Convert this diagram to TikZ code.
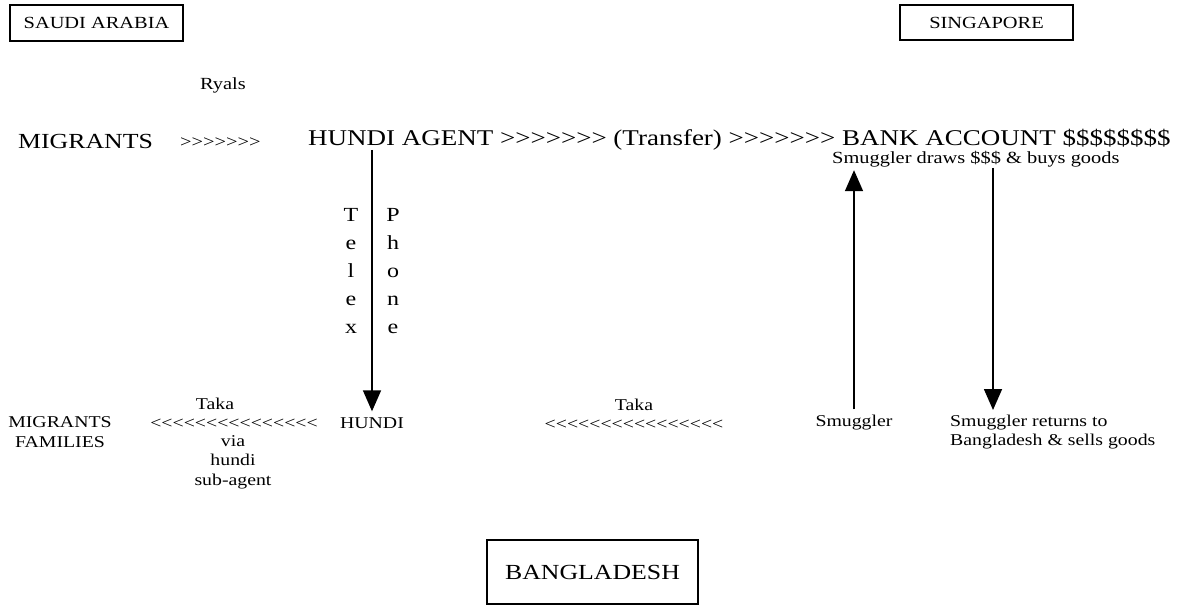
\documentclass[tikz,border=0pt]{standalone}
\usepackage{fontspec}
\setmainfont[FakeStretch=1.2]{Liberation Serif}
% same face without the TeX input mapping, so that << and >> stay plain signs
\newfontfamily\plainserif[FakeStretch=1.2]{Liberation Serif}
\usetikzlibrary{arrows.meta}
\begin{document}
\begin{tikzpicture}[x=1pt,y=-1pt,
  big/.style={font=\plainserif\fontsize{21.5}{26}\selectfont, inner sep=0pt},
  small/.style={font=\plainserif\fontsize{17}{20}\selectfont, inner sep=0pt},
  bsmall/.style={font=\plainserif\fontsize{16.5}{19.5}\selectfont, inner sep=0pt},
  letters/.style={font=\plainserif\fontsize{20}{28}\selectfont, inner sep=0pt, align=center},
  place/.style={draw, line width=1.3pt},
  flow/.style={line width=1.6pt, -{Triangle[width=18pt,length=21pt]}},
]
\useasboundingbox (0,0) rectangle (1185,609);

% country boxes
\node[place, small, minimum width=173pt, minimum height=36pt] (sa) at (96.5,23) {SAUDI ARABIA};
\node[place, small, minimum width=173pt, minimum height=35pt] (sg) at (986.5,22.5) {SINGAPORE};
\node[place, big, minimum width=211pt, minimum height=64pt] (bd) at (592.5,572) {BANGLADESH};

% top row: remittance leaves the Gulf
\node[small] (ryals) at (223,85) {Ryals};
\node[big, anchor=west] (mig) at (18,141) {MIGRANTS};
\node[small, anchor=west] (migarr) at (180,143) {>>>>>>>};
\node[font=\plainserif\fontsize{22.5}{26}\selectfont, inner sep=0pt, anchor=west] (main) at (308,140)
  {HUNDI AGENT >>>>>>> (Transfer) >>>>>>> BANK ACCOUNT \$\$\$\$\$\$\$\$};
\node[small, anchor=west] (draws) at (832,159) {Smuggler draws \$\$\$ \& buys goods};

% message channels beside the hundi arrow
\node[letters] (telex) at (351,271) {T\\e\\l\\e\\x};
\node[letters] (phone) at (393,271) {P\\h\\o\\n\\e};

% bottom row: payment in Bangladesh
\node[bsmall, align=center] (mf) at (60,432) {MIGRANTS\\FAMILIES};
\node[bsmall] (taka1) at (215,404) {Taka};
\node[bsmall] (larr) at (234,424) {<<<<<<<<<<<<<<<};
\node[bsmall, align=center] (via) at (233,462) {via\\hundi\\sub-agent};
\node[bsmall] (hundi) at (372,423) {HUNDI};
\node[bsmall] (taka2) at (634,405) {Taka};
\node[bsmall] (rarr) at (634,425) {<<<<<<<<<<<<<<<<};
\node[bsmall] (smug) at (854,423) {Smuggler};
\node[bsmall, align=left, anchor=west] (ret) at (950,432) {Smuggler returns to\\Bangladesh \& sells goods};

% connectors
\coordinate (tstart) at (372,150);
\coordinate (dtop) at (993,168);
\coordinate (dtip) at (993,410);
\draw[flow, shorten >=6pt] (tstart) -- (hundi.north);
\draw[flow, shorten <=6pt, shorten >=3pt] (smug.north) -- (smug.north |- draws.south);
\draw[flow] (dtop) -- (dtip);
\end{tikzpicture}
\end{document}
